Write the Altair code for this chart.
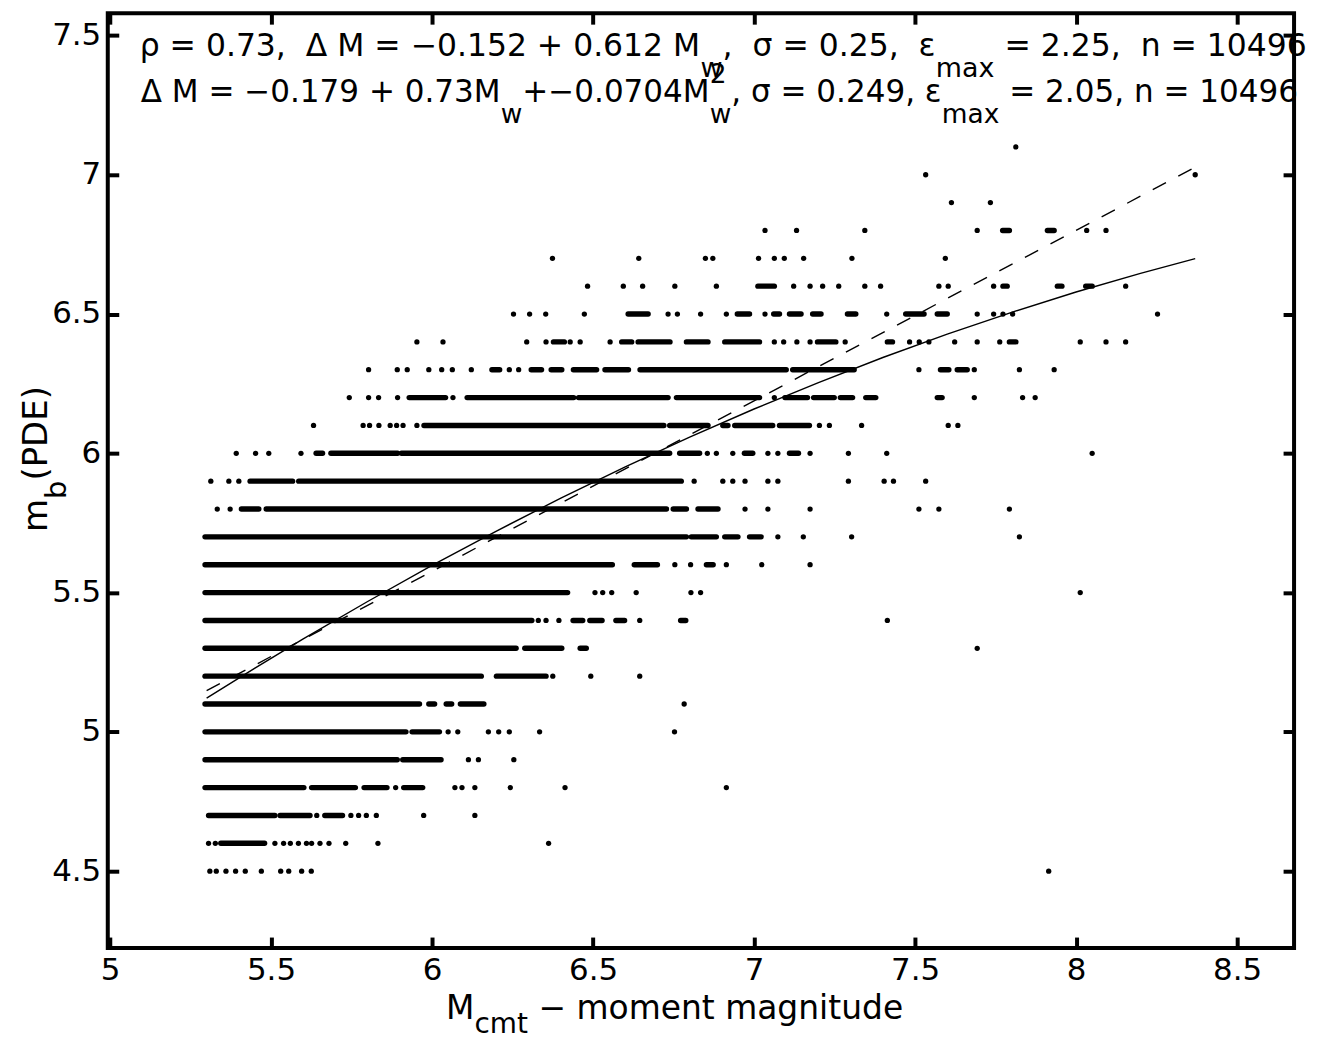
import altair as alt
import pandas as pd

# ---------------- data ----------------
# dense runs of points: mb row -> list of (Mw from, Mw to)
runs = {
    4.6: [(5.344, 5.48)],
    4.7: [(5.306, 5.512), (5.528, 5.621), (5.667, 5.722)],
    4.8: [(5.295, 5.602), (5.626, 5.762), (5.789, 5.86), (5.912, 5.971)],
    4.9: [(5.295, 5.892), (5.909, 6.028)],
    5.0: [(5.295, 5.919), (5.938, 6.023)],
    5.1: [(5.295, 5.961), (5.99, 6.008), (6.044, 6.061), (6.088, 6.161)],
    5.2: [(5.295, 6.153), (6.2, 6.354)],
    5.3: [(5.295, 6.261), (6.288, 6.403), (6.46, 6.479)],
    5.4: [(5.295, 6.31), (6.438, 6.468), (6.49, 6.528), (6.571, 6.598), (6.772, 6.788)],
    5.5: [(5.295, 6.421)],
    5.6: [(5.295, 6.56), (6.628, 6.70), (6.852, 6.873)],
    5.7: [(5.295, 6.79), (6.805, 6.883), (6.909, 6.95), (6.986, 7.022)],
    5.8: [(5.408, 5.462), (5.485, 6.728), (6.749, 6.79), (6.826, 6.888)],
    5.9: [(5.435, 5.567), (5.586, 6.774)],
    6.0: [(5.64, 5.66), (5.686, 5.893), (5.905, 6.738), (6.769, 6.831), (6.97, 6.996), (7.11, 7.138)],
    6.1: [(5.975, 6.72), (6.738, 6.857), (6.903, 6.919), (6.94, 7.058), (7.079, 7.172)],
    6.2: [(5.929, 6.042), (6.109, 6.44), (6.455, 6.733), (6.759, 7.017), (7.096, 7.166),
          (7.185, 7.249), (7.268, 7.306), (7.347, 7.378), (7.569, 7.584)],
    6.3: [(6.186, 6.21), (6.308, 6.34), (6.37, 6.403), (6.439, 6.511), (6.537, 6.61),
          (6.646, 7.10), (7.12, 7.311), (7.579, 7.605), (7.631, 7.662)],
    6.4: [(6.377, 6.411), (6.589, 6.62), (6.64, 6.739), (6.79, 6.857), (6.909, 7.017),
          (7.197, 7.254), (7.414, 7.43), (7.793, 7.813)],
    6.5: [(6.609, 6.671), (6.948, 6.986), (7.061, 7.079), (7.11, 7.146), (7.182, 7.208),
          (7.29, 7.316), (7.471, 7.528), (7.569, 7.6)],
    6.6: [(7.012, 7.063), (7.773, 7.786), (7.942, 7.956), (8.03, 8.05)],
    6.8: [(7.772, 7.793), (7.911, 7.932)],
}

# isolated points: mb row -> Mw values
points = {
    4.5: [5.31, 5.33, 5.36, 5.39, 5.42, 5.47, 5.53, 5.555, 5.595, 5.625, 7.915],
    4.6: [5.306, 5.327, 5.512, 5.539, 5.56, 5.585, 5.61, 5.626, 5.652, 5.68, 5.732, 5.832, 6.362],
    4.7: [5.642, 5.748, 5.772, 5.796, 5.827, 5.974, 6.133],
    4.8: [5.887, 6.071, 6.093, 6.133, 6.243, 6.413, 6.914],
    4.9: [6.113, 6.144, 6.254],
    5.0: [6.05, 6.08, 6.175, 6.207, 6.24, 6.334, 6.753],
    5.1: [6.783],
    5.2: [6.375, 6.493, 6.645],
    5.3: [7.693],
    5.4: [6.33, 6.354, 6.394, 6.645, 7.414],
    5.5: [6.506, 6.53, 6.558, 6.634, 6.804, 6.834, 8.013],
    5.6: [6.754, 6.803, 6.914, 7.024, 7.174],
    5.7: [7.074, 7.153, 7.303, 7.824],
    5.8: [5.333, 5.373, 6.972, 7.043, 7.174, 7.512, 7.574, 7.793],
    5.9: [5.313, 5.369, 5.4, 6.814, 6.903, 6.934, 6.972, 7.043, 7.074, 7.293, 7.404, 7.433, 7.533],
    6.0: [5.392, 5.452, 5.493, 5.593, 6.855, 6.883, 6.934, 7.043, 7.074, 7.174, 7.293, 7.412, 8.05],
    6.1: [5.632, 5.786, 5.806, 5.835, 5.87, 5.89, 5.91, 5.953, 7.203, 7.234, 7.334, 7.603, 7.633],
    6.2: [5.743, 5.803, 5.834, 5.893, 6.065, 7.063, 7.684, 7.834, 7.873],
    6.3: [5.803, 5.892, 5.923, 5.99, 6.03, 6.063, 6.122, 6.24, 6.269, 7.512, 7.684, 7.824, 7.932],
    6.4: [5.953, 6.034, 6.294, 6.354, 6.429, 6.46, 6.553, 7.063, 7.092, 7.133, 7.174, 7.283,
          7.483, 7.513, 7.543, 7.623, 7.693, 7.763, 8.013, 8.093, 8.154],
    6.5: [6.253, 6.303, 6.353, 6.473, 6.733, 6.762, 6.834, 6.914, 7.034, 7.412, 7.693, 7.744,
          7.773, 7.803, 8.253],
    6.6: [6.483, 6.594, 6.654, 6.754, 6.883, 7.123, 7.174, 7.213, 7.263, 7.344, 7.393, 7.574,
          7.603, 7.744, 8.154],
    6.7: [6.374, 6.642, 6.849, 6.872, 7.014, 7.063, 7.094, 7.154, 7.304, 7.594],
    6.8: [7.034, 7.132, 7.344, 7.693, 8.033, 8.093],
    6.9: [7.613, 7.734],
    7.0: [7.533, 8.37],
    7.1: [7.813],
}

# fitted curves
fit_mw = [5.30, 5.45, 5.60, 5.80, 6.00, 6.20, 6.40, 6.60, 6.80, 7.00, 7.20, 7.40, 7.60, 7.80, 8.00, 8.20, 8.37]
lin_mb = [5.148, 5.240, 5.332, 5.454, 5.576, 5.699, 5.821, 5.944, 6.066, 6.188, 6.311, 6.433, 6.556, 6.678, 6.800, 6.923, 7.027]
quad_mb = [5.121, 5.229, 5.334, 5.468, 5.598, 5.721, 5.839, 5.951, 6.058, 6.159, 6.254, 6.344, 6.428, 6.506, 6.579, 6.646, 6.699]

x_ticks = [5, 5.5, 6, 6.5, 7, 7.5, 8, 8.5]
y_ticks = [4.5, 5, 5.5, 6, 6.5, 7, 7.5]
X_DOMAIN = [4.993, 8.677]
Y_DOMAIN = [4.224, 7.58]

line1 = [("ρ = 0.73,  Δ M = −0.152 + 0.612 M", "n"), ("w", "b"), (",  σ = 0.25,  ε", "n"),
         ("max", "b"), (" = 2.25,  n = 10496", "n")]
line2 = [("Δ M = −0.179 + 0.73M", "n"), ("w", "b"), ("+−0.0704M", "n"), ("w|2", "bp"),
         (", σ = 0.249, ε", "n"), ("max", "b"), (" = 2.05, n = 10496", "n")]
xtitle = [("M", "n"), ("cmt", "b"), (" − moment magnitude", "n")]
ytitle = [("m", "n"), ("b", "b"), ("(PDE)", "n")]

# ---------------- layout / styles ----------------
W, H = 1189, 937
FONT = "DejaVu Sans"
ADV = {" ": .318, ".": .318, ",": .318, "=": .838, "+": .838, "−": .838, "M": .863, "Δ": .684,
       "ρ": .635, "σ": .635, "ε": .541, "n": .634, "w": .818, "m": .974, "a": .613, "x": .592,
       "c": .550, "t": .392, "b": .635, "(": .390, ")": .390, "P": .603, "D": .770, "E": .632,
       "o": .612, "e": .615, "g": .635, "i": .278, "u": .634, "d": .635}
for _d in "0123456789":
    ADV[_d] = .636


def tw(s, fs):
    return sum(ADV.get(c, .6) for c in s) * fs


def lay(pieces, x0, base, fs, sfs, drop, rise, angle=0):
    rows = []
    pos = x0
    sign = 1 if angle == 0 else -1
    for txt, kind in pieces:
        if kind == "n":
            lead = len(txt) - len(txt.lstrip(" "))
            pos += sign * tw(" " * lead, fs)
            txt = txt.lstrip(" ")
            parts = [(txt, fs, 0)]
        elif kind == "b":
            parts = [(txt, sfs, drop)]
        else:
            sub, sup = txt.split("|")
            parts = [(sub, sfs, drop), (sup, sfs, -rise)]
        adv = max(tw(p[0], p[1]) for p in parts)
        for t, f, off in parts:
            t2 = t.replace(" ", "\u00a0")
            if angle == 0:
                rows.append(dict(t=t2, px=pos, py=base + off, fs=f, ang=0))
            else:
                rows.append(dict(t=t2, px=base + off, py=pos, fs=f, ang=angle))
        pos += sign * adv
    return rows


text_rows = []
text_rows += lay(line1, 32, 43, 31.5, 27, 21, 20)
text_rows += lay(line2, 33, 89.5, 31.1, 26.5, 21, 20)
text_rows += lay(xtitle, 339, 1008, 33, 28, 14, 20)
text_rows += lay(ytitle, 520, -61, 34, 29, 19, 20, angle=270)
text_df = pd.DataFrame(text_rows)

runs_df = pd.DataFrame([dict(mb=k, a=a, b=b) for k, v in runs.items() for a, b in v])
pts_df = pd.DataFrame([dict(mb=k, mw=x) for k, v in points.items() for x in v])
fit_df = pd.DataFrame(dict(mw=fit_mw, lin=lin_mb, quad=quad_mb))

xs = alt.Scale(domain=X_DOMAIN, nice=False, zero=False)
ys = alt.Scale(domain=Y_DOMAIN, nice=False, zero=False)

common = dict(tickSize=11, tickWidth=4, tickColor="black", domain=False, grid=False,
              offset=-11, title=None, labelFont=FONT, labelFontSize=31, labelColor="black")
x_bottom = alt.Axis(orient="bottom", values=x_ticks, labelPadding=8,
                    labelExpr="'' + datum.value", **common)
x_top = alt.Axis(orient="top", values=x_ticks, labels=False, **common)
y_left = alt.Axis(orient="left", values=y_ticks, labelPadding=7,
                  labelExpr="'' + datum.value", **common)
y_right = alt.Axis(orient="right", values=y_ticks, labels=False, **common)

runs_layer = alt.Chart(runs_df).mark_rule(color="black", strokeWidth=5.4, strokeCap="round").encode(
    x=alt.X("a:Q", scale=xs, axis=x_bottom),
    x2="b:Q",
    y=alt.Y("mb:Q", scale=ys, axis=y_left),
)
pts_layer = alt.Chart(pts_df).mark_circle(color="black", size=28, opacity=1).encode(
    x=alt.X("mw:Q", scale=xs, axis=x_top),
    y=alt.Y("mb:Q", scale=ys, axis=y_right),
)
quad_layer = alt.Chart(fit_df).mark_line(color="black", strokeWidth=1.4).encode(
    x=alt.X("mw:Q", scale=xs, axis=None),
    y=alt.Y("quad:Q", scale=ys, axis=None),
)
lin_layer = alt.Chart(fit_df).mark_line(color="black", strokeWidth=1.4, strokeDash=[15, 14]).encode(
    x=alt.X("mw:Q", scale=xs, axis=None),
    y=alt.Y("lin:Q", scale=ys, axis=None),
)
text_layer = alt.Chart(text_df).mark_text(align="left", baseline="alphabetic", font=FONT, color="black").encode(
    x=alt.X("px:Q", scale=None, axis=None),
    y=alt.Y("py:Q", scale=None, axis=None),
    text="t:N",
    size=alt.Size("fs:Q", scale=None, legend=None),
    angle=alt.Angle("ang:Q", scale=None, legend=None),
)

chart = (
    alt.layer(runs_layer, pts_layer, quad_layer, lin_layer, text_layer)
    .resolve_axis(x="independent", y="independent")
    .properties(
        width=W, height=H,
        autosize=alt.AutoSizeParams(type="none"),
        padding={"left": 100, "top": 4, "right": 26, "bottom": 94},
        background="white",
    )
    .configure_view(stroke="black", strokeWidth=4)
)

chart.save("out.html", embed_options={"renderer": "svg", "actions": False})
